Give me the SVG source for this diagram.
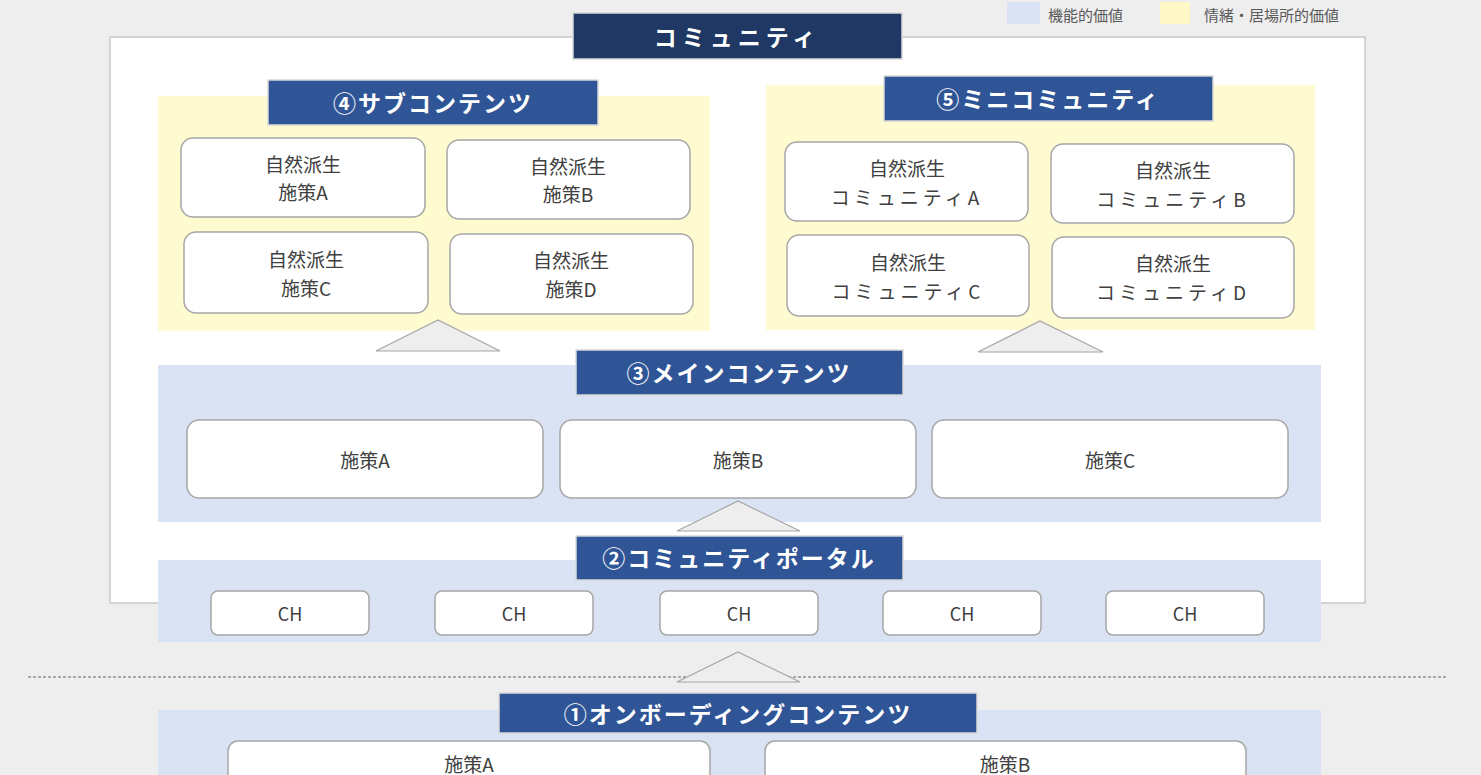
<svg xmlns="http://www.w3.org/2000/svg" width="1481" height="775" viewBox="0 0 1481 775">
<style>
text{font-family:"Noto Sans CJK JP","Noto Sans",sans-serif;text-anchor:middle;dominant-baseline:central}
.t{fill:#fff;font-weight:bold;font-size:23px;letter-spacing:2px}
.tb{fill:#2f5597;stroke:#d9d9d9;stroke-width:1.5}
.b{fill:#fff;stroke:#a6a6a6;stroke-width:1.5}
.bt{fill:#404040;font-size:19px}
.blue{fill:#dae3f3}.yel{fill:#fffbd0}
.tri{fill:#eeeeee;stroke:#a6a6a6;stroke-width:1.2}
.lg{fill:#595959;font-size:15px;text-anchor:start}
</style>
<rect width="1481" height="775" fill="#eeeeee"/>
<g id="legend"><rect x="1007" y="2" width="33" height="22" class="blue"/><text x="1048" y="14" class="lg">機能的価値</text><rect x="1160" y="2" width="30" height="22" fill="#fff9c8"/><text x="1204" y="14" class="lg">情緒・居場所的価値</text></g>
<g id="frame"><rect x="110" y="37" width="1255" height="566" fill="#fff" stroke="#c8c8c8" stroke-width="1.5"/></g>
<g id="community"><rect x="573" y="13" width="329" height="46" fill="#1f3864" stroke="#d9d9d9" stroke-width="1.5"/><text x="737" y="36" class="t" style="letter-spacing:5px">コミュニティ</text></g>
<g id="sub">
<rect x="158" y="96" width="552" height="235" class="yel"/>
<rect x="268" y="80" width="330" height="45" class="tb"/><text x="433" y="102" class="t">④サブコンテンツ</text>
<rect x="181" y="138" width="244" height="79" rx="12" class="b"/><text x="303" y="163" class="bt">自然派生</text><text x="303" y="191" class="bt">施策A</text>
<rect x="447" y="140" width="243" height="79" rx="12" class="b"/><text x="568" y="165" class="bt">自然派生</text><text x="568" y="193" class="bt">施策B</text>
<rect x="184" y="232" width="244" height="81" rx="12" class="b"/><text x="306" y="258" class="bt">自然派生</text><text x="306" y="287" class="bt">施策C</text>
<rect x="450" y="234" width="243" height="80" rx="12" class="b"/><text x="571" y="259" class="bt">自然派生</text><text x="571" y="288" class="bt">施策D</text>
</g>
<g id="mini">
<rect x="766" y="85" width="549" height="245" class="yel"/>
<rect x="884" y="76" width="329" height="45" class="tb"/><text x="1048" y="98" class="t">⑤ミニコミュニティ</text>
<rect x="785" y="142" width="243" height="79" rx="12" class="b"/><text x="907" y="167" class="bt">自然派生</text><text x="907" y="196" class="bt" style="letter-spacing:4px">コミュニティA</text>
<rect x="1051" y="144" width="243" height="79" rx="12" class="b"/><text x="1173" y="169" class="bt">自然派生</text><text x="1173" y="198" class="bt" style="letter-spacing:4px">コミュニティB</text>
<rect x="787" y="235" width="242" height="81" rx="12" class="b"/><text x="908" y="261" class="bt">自然派生</text><text x="908" y="290" class="bt" style="letter-spacing:4px">コミュニティC</text>
<rect x="1052" y="237" width="242" height="81" rx="12" class="b"/><text x="1173" y="262" class="bt">自然派生</text><text x="1173" y="291" class="bt" style="letter-spacing:4px">コミュニティD</text>
</g>
<g id="main">
<rect x="158" y="365" width="1163" height="157" class="blue"/>
<rect x="576" y="350" width="327" height="45" class="tb"/><text x="739" y="372" class="t">③メインコンテンツ</text>
<rect x="187" y="420" width="356" height="78" rx="12" class="b"/><text x="365" y="459" class="bt">施策A</text>
<rect x="560" y="420" width="356" height="78" rx="12" class="b"/><text x="738" y="459" class="bt">施策B</text>
<rect x="932" y="420" width="356" height="78" rx="12" class="b"/><text x="1110" y="459" class="bt">施策C</text>
</g>
<g id="portal">
<rect x="158" y="560" width="1163" height="82" class="blue"/>
<rect x="576" y="536" width="327" height="44" class="tb"/><text x="739" y="557" class="t">②コミュニティポータル</text>
<rect x="211" y="591" width="158" height="44" rx="7" class="b"/><text x="290" y="613" class="bt" style="font-size:18px">CH</text>
<rect x="435" y="591" width="158" height="44" rx="7" class="b"/><text x="514" y="613" class="bt" style="font-size:18px">CH</text>
<rect x="660" y="591" width="158" height="44" rx="7" class="b"/><text x="739" y="613" class="bt" style="font-size:18px">CH</text>
<rect x="883" y="591" width="158" height="44" rx="7" class="b"/><text x="962" y="613" class="bt" style="font-size:18px">CH</text>
<rect x="1106" y="591" width="158" height="44" rx="7" class="b"/><text x="1185" y="613" class="bt" style="font-size:18px">CH</text>
</g>
<g id="onboarding">
<rect x="158" y="710" width="1163" height="70" class="blue"/>
<rect x="499" y="693" width="478" height="40" class="tb"/><text x="738" y="713" class="t">①オンボーディングコンテンツ</text>
<rect x="228" y="741" width="482" height="60" rx="10" class="b"/><text x="469" y="763" class="bt">施策A</text>
<rect x="765" y="741" width="481" height="60" rx="10" class="b"/><text x="1005" y="763" class="bt">施策B</text>
</g>
<g id="connectors">
<line x1="28" y1="677" x2="1448" y2="677" stroke="#666" stroke-width="1.2" stroke-dasharray="3,2"/>
<polygon points="376,351 438,320 500,351" class="tri"/>
<polygon points="978,352 1040,321 1103,352" class="tri"/>
<polygon points="677,531 738,501 800,531" class="tri"/>
<polygon points="677,682 738,652 800,682" class="tri"/>
</g>
</svg>
